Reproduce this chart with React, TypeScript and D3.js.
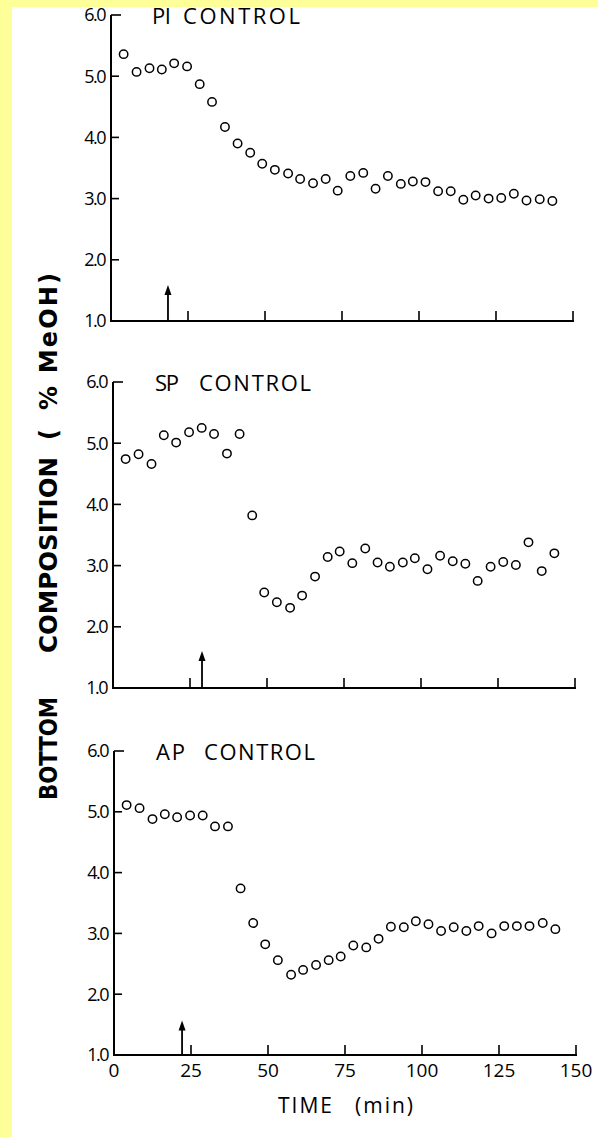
import * as d3 from "d3";
import React from "react";

// sampling times (min)
const times = [4.1, 8.3, 12.5, 16.5, 20.5, 24.7, 28.8, 32.8, 37.0, 41.1, 45.2, 49.1, 53.2, 57.5, 61.4, 65.6, 69.7, 73.6, 77.7, 81.9, 85.9, 89.9, 94.1, 98.0, 102.1, 106.2, 110.3, 114.4, 118.4, 122.6, 126.7, 130.8, 134.9, 139.2, 143.3];

const piValues = [5.36, 5.07, 5.13, 5.11, 5.21, 5.16, 4.87, 4.58, 4.17, 3.90, 3.75, 3.57, 3.47, 3.41, 3.32, 3.25, 3.32, 3.13, 3.37, 3.42, 3.16, 3.37, 3.24, 3.28, 3.27, 3.12, 3.12, 2.98, 3.05, 3.00, 3.01, 3.08, 2.97, 2.99, 2.96];
const spValues = [4.74, 4.82, 4.66, 5.13, 5.01, 5.18, 5.25, 5.15, 4.83, 5.15, 3.82, 2.56, 2.40, 2.31, 2.51, 2.82, 3.14, 3.23, 3.04, 3.28, 3.05, 2.98, 3.05, 3.12, 2.94, 3.16, 3.07, 3.03, 2.75, 2.98, 3.06, 3.01, 3.38, 2.91, 3.20];
const apValues = [5.11, 5.06, 4.88, 4.96, 4.91, 4.94, 4.94, 4.76, 4.76, 3.74, 3.17, 2.82, 2.56, 2.32, 2.40, 2.48, 2.56, 2.62, 2.80, 2.77, 2.91, 3.11, 3.10, 3.20, 3.15, 3.04, 3.10, 3.04, 3.12, 3.00, 3.12, 3.12, 3.12, 3.17, 3.07];

const panelNames = ["PI", "SP", "AP"];
const arrowTimes = [18.5, 28.9, 22.1];
const arrowTops = [1.57, 1.59, 1.55];

const yTicks = [1, 2, 3, 4, 5, 6];
const xTicks = [0, 25, 50, 75, 100, 125, 150];

const font = "'Open Sans', 'DejaVu Sans', sans-serif";

// layout of the three stacked panels
const panels = [
  { values: piValues, x0: 111, top: 15, bottom: 321, prefX: 152, prefW: 19, ctlX: 183, ctlW: 117 },
  { values: spValues, x0: 113, top: 382, bottom: 688, prefX: 155, prefW: 24, ctlX: 199, ctlW: 112 },
  { values: apValues, x0: 114, top: 751, bottom: 1055, prefX: 156, prefW: 29, ctlX: 204, ctlW: 111 },
];

function Panel({ p, i }: { p: any; i: number }) {
  const x = d3.scaleLinear().domain([0, 150]).range([p.x0, p.x0 + 462]);
  const y = d3.scaleLinear().domain([1, 6]).range([p.bottom, p.top]);
  const ax = x(arrowTimes[i]);
  const tip = y(arrowTops[i]);
  const last = i === 2;

  return (
    <g>
      {/* axes */}
      <line x1={x(0)} x2={x(0)} y1={y(6)} y2={y(1)} stroke="#000" strokeWidth={2} />
      <line x1={x(0) - 1} x2={x(150) + 1} y1={y(1)} y2={y(1)} stroke="#000" strokeWidth={2} />
      {yTicks.filter((t) => t > 1).map((t) => (
        <line key={"yt" + t} x1={x(0)} x2={x(0) + (t === 6 ? 10 : 8)} y1={y(t)} y2={y(t)} stroke="#000" strokeWidth={1.6} />
      ))}
      {xTicks.filter((t) => t > 0).map((t) => (
        <line key={"xt" + t} x1={x(t)} x2={x(t)} y1={y(1)} y2={y(1) - 10} stroke="#000" strokeWidth={1.6} />
      ))}
      {yTicks.map((t) => (
        <text key={"yl" + t} x={x(0) - 6} y={y(t)} dy="0.36em" textAnchor="end"
          fontFamily={font} fontSize={18} letterSpacing={-1.5} fill="#000">
          {t.toFixed(1)}
        </text>
      ))}
      {last && xTicks.map((t) => (
        <text key={"xl" + t} x={x(t)} y={y(1) + 22} textAnchor="middle"
          fontFamily={font} fontSize={19} fill="#000">
          {t}
        </text>
      ))}

      {/* title */}
      <text x={p.prefX} y={p.top + 9} fontFamily={font} fontSize={22} textLength={p.prefW} lengthAdjust="spacing" fill="#000">
        {panelNames[i]}
      </text>
      <text x={p.ctlX} y={p.top + 9} fontFamily={font} fontSize={22} textLength={p.ctlW} lengthAdjust="spacing" fill="#000">
        CONTROL
      </text>

      {/* step arrow */}
      <line x1={ax} x2={ax} y1={y(1)} y2={tip + 6} stroke="#000" strokeWidth={1.8} />
      <path d={`M${ax},${tip - 1} L${ax - 3.5},${tip + 9} L${ax + 3.5},${tip + 9} Z`} fill="#000" />

      {/* data */}
      {p.values.map((v: number, k: number) => (
        <circle key={k} cx={x(times[k])} cy={y(v)} r={4.2} fill="#fff" stroke="#000" strokeWidth={1.5} />
      ))}
    </g>
  );
}

export default function App() {
  return (
    <svg width={598} height={1137} style={{ position: "absolute", left: 0, top: 0 }}>
      <rect x={0} y={0} width={598} height={1137} fill="#ffff99" />
      <rect x={12} y={7} width={586} height={1130} fill="#fff" />

      {panels.map((p, i) => (
        <Panel key={i} p={p} i={i} />
      ))}

      {/* y axis title, reads bottom to top */}
      <g transform="translate(57,0)" fontFamily="'DejaVu Sans', sans-serif" fontSize={24} fontWeight="bold" fill="#000">
        <text transform="translate(0,800) rotate(-90)" textLength={103} lengthAdjust="spacingAndGlyphs">BOTTOM</text>
        <text transform="translate(0,653) rotate(-90)" textLength={196} lengthAdjust="spacingAndGlyphs">COMPOSITION</text>
        <text transform="translate(0,440) rotate(-90)">(</text>
        <text transform="translate(0,410) rotate(-90)" textLength={137} lengthAdjust="spacing">% MeOH)</text>
      </g>

      {/* x axis title */}
      <g fontFamily={font} fontSize={21} fill="#000">
        <text x={278} y={1113} textLength={54} lengthAdjust="spacing">TIME</text>
        <text x={355} y={1113} textLength={58} lengthAdjust="spacing">(min)</text>
      </g>
    </svg>
  );
}
